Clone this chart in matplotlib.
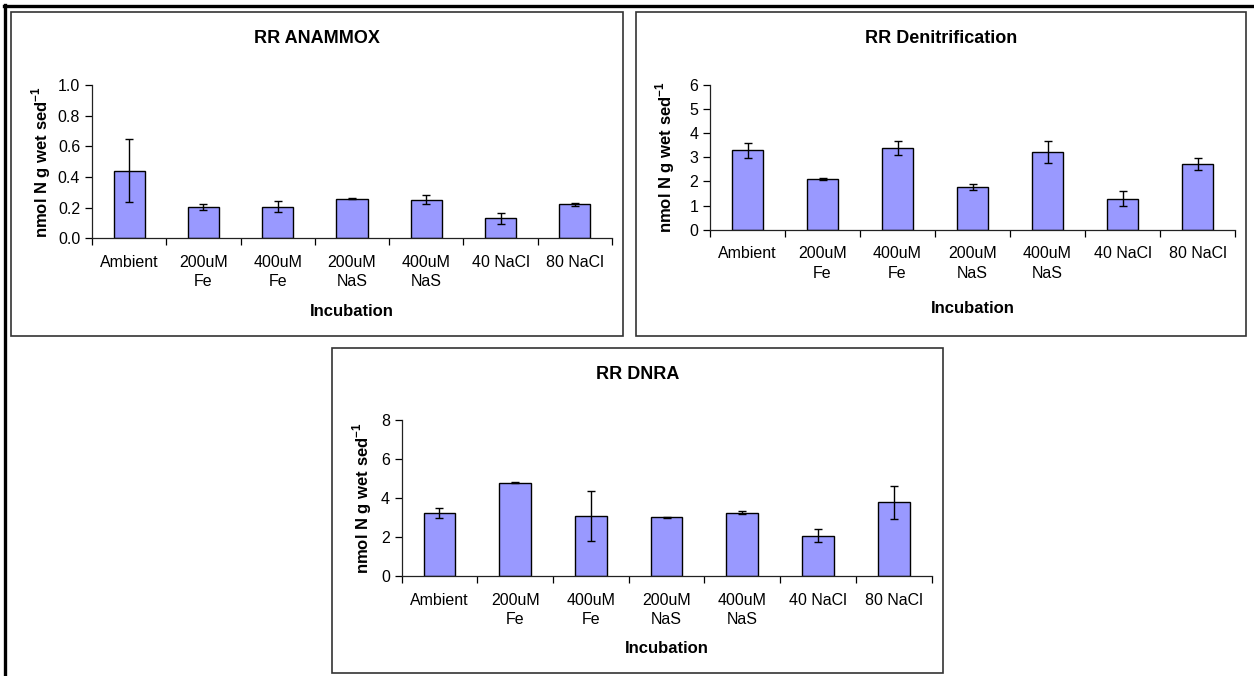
import numpy as np
import matplotlib.pyplot as plt
from matplotlib.patches import Rectangle
from matplotlib.lines import Line2D

plt.rcParams['font.family'] = ['Liberation Sans', 'DejaVu Sans']
plt.rcParams['mathtext.fontset'] = 'custom'
plt.rcParams['mathtext.rm'] = 'Liberation Sans'
plt.rcParams['mathtext.bf'] = 'Liberation Sans:bold'

categories = ['Ambient', '200uM\nFe', '400uM\nFe', '200uM\nNaS', '400uM\nNaS', '40 NaCl', '80 NaCl']

anammox = [0.44, 0.207, 0.207, 0.259, 0.252, 0.13, 0.222]
anammox_err = [0.205, 0.02, 0.038, 0.005, 0.03, 0.035, 0.01]

denit = [3.30, 2.10, 3.40, 1.78, 3.21, 1.29, 2.74]
denit_err = [0.31, 0.04, 0.29, 0.12, 0.46, 0.30, 0.25]

dnra = [3.25, 4.79, 3.08, 3.01, 3.25, 2.07, 3.79]
dnra_err = [0.25, 0.02, 1.26, 0.02, 0.09, 0.32, 0.85]

W, H = 1254, 676
fig = plt.figure(figsize=(W / 100, H / 100), dpi=100)


def fx(x):
    return x / W


def fy(y):
    return 1 - y / H


def box(x0, y0, x1, y1, color='#333333', lw=1.2):
    fig.add_artist(Rectangle((fx(x0), fy(y1)), fx(x1 - x0), (y1 - y0) / H,
                             transform=fig.transFigure, fill=False,
                             edgecolor=color, linewidth=lw))


def panel(axpos, chart, title, title_y, vals, errs, yticks, fmt, ylab_x, ylab_y, xlab_y):
    x0, y0, x1, y1 = axpos
    ax = fig.add_axes([fx(x0), fy(y1), fx(x1 - x0), (y1 - y0) / H])
    pos = np.arange(len(categories))
    ax.bar(pos, vals, width=0.42, color='#9999FF', edgecolor='black', linewidth=1.0,
           yerr=errs, capsize=3.2, error_kw=dict(ecolor='black', elinewidth=1.0, capthick=1.0))
    ax.set_xlim(-0.5, len(categories) - 0.5)
    ax.set_ylim(yticks[0], yticks[-1])
    ax.set_yticks(yticks)
    ax.set_yticklabels([fmt.format(t) for t in yticks])
    ax.set_xticks(pos)
    ax.set_xticklabels(categories, linespacing=1.35)
    ax.set_xticks(np.arange(-0.5, len(categories)), minor=True)
    ax.tick_params(axis='x', which='major', length=0, pad=12, labelsize=11.5)
    ax.tick_params(axis='x', which='minor', length=5, width=0.9, direction='out')
    ax.tick_params(axis='y', length=5, width=0.9, direction='out', pad=3.5, labelsize=11.5)
    for s in ['top', 'right']:
        ax.spines[s].set_visible(False)
    for s in ['left', 'bottom']:
        ax.spines[s].set_linewidth(0.9)
        ax.spines[s].set_color('#222222')
    ax.patch.set_alpha(0)

    cx0, cy0, cx1, cy1 = chart
    box(cx0, cy0, cx1, cy1)
    fig.text(fx((cx0 + cx1) / 2), fy(title_y), title, ha='center', va='baseline',
             fontsize=13, fontweight='bold')
    fig.text(fx((x0 + x1) / 2), fy(xlab_y), 'Incubation', ha='center', va='baseline',
             fontsize=12, fontweight='bold')
    fig.text(fx(ylab_x), fy(ylab_y), r'nmol N g wet sed$^{\mathbf{-1}}$', rotation=90,
             ha='center', va='center', fontsize=12, fontweight='bold')
    return ax


panel((92, 85, 612, 238.3), (11, 12, 623, 336), 'RR ANAMMOX', 43,
      anammox, anammox_err, [0, 0.2, 0.4, 0.6, 0.8, 1.0], '{:.1f}', 41, 162, 316)
panel((710, 85, 1235, 229.7), (636, 12, 1246, 336), 'RR Denitrification', 43,
      denit, denit_err, [0, 1, 2, 3, 4, 5, 6], '{:d}', 665, 157, 313)
panel((401.6, 420, 931.5, 576), (332, 348, 943, 673), 'RR DNRA', 379,
      dnra, dnra_err, [0, 2, 4, 6, 8], '{:d}', 362, 498, 652.7)

# outer frame around the three charts
fig.add_artist(Line2D([fx(4), fx(W)], [fy(6), fy(6)], transform=fig.transFigure,
                      color='black', linewidth=2.4))
fig.add_artist(Line2D([fx(5), fx(5)], [fy(5), fy(H)], transform=fig.transFigure,
                      color='black', linewidth=2.4))

fig.savefig('out.png', dpi=100)
